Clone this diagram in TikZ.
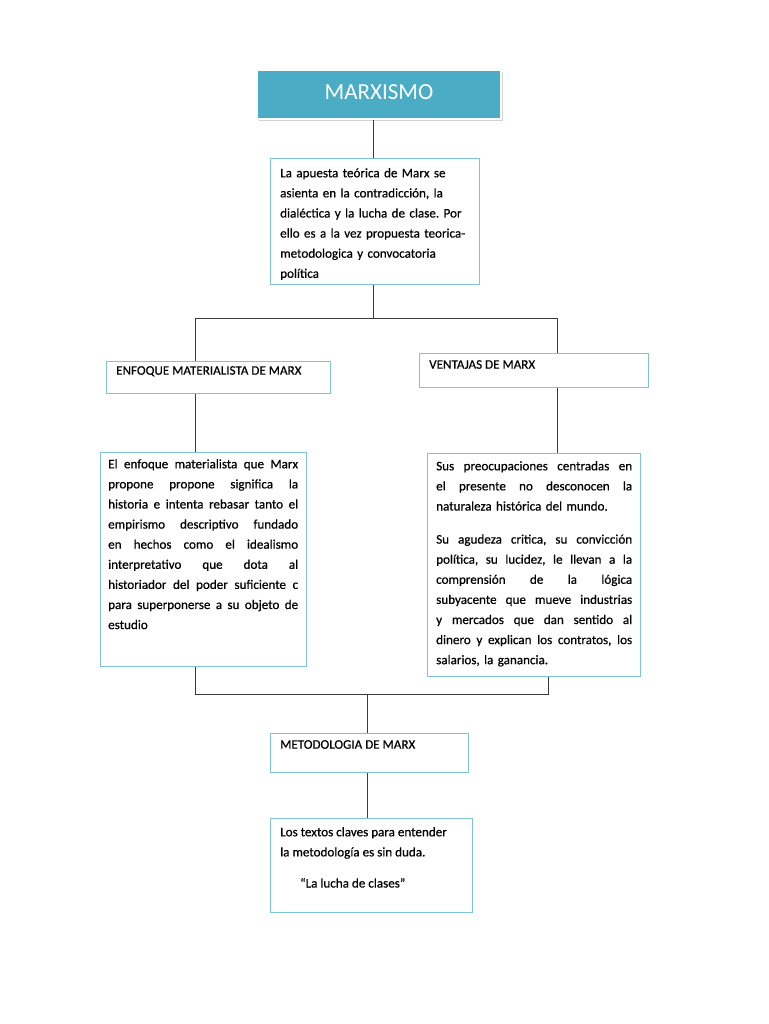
\documentclass[tikz,border=0pt]{standalone}
\usepackage{fontspec}
\setmainfont{Carlito}[FakeBold=0.5]
\newfontfamily\titlefont{Carlito}
\frenchspacing
\usetikzlibrary{shadows}
\definecolor{acc}{HTML}{4BACC6}
\definecolor{edge}{HTML}{7FC3D6}
\definecolor{conn}{HTML}{3A3A3A}
\newcommand{\jline}[1]{\hbox to \hsize{\spaceskip=0.22em plus 1fil\relax #1}}
\tikzset{
  box/.style={draw=edge, line width=1pt, fill=white, anchor=north west, inner sep=0pt},
  txt/.style={anchor=north west, inner sep=0pt, font=\fontsize{13.1}{20.1}\selectfont\frenchspacing, text=black},
  conn/.style={draw=conn, line width=1pt},
}
\begin{document}
\begin{tikzpicture}[x=1pt,y=-1pt]
\useasboundingbox[fill=white] (0,0) rectangle (768,1024);
% title
\node[box, draw=white, line width=2pt, fill=acc, minimum width=244pt, minimum height=49pt,
  drop shadow={opacity=0.35, shadow xshift=1.5pt, shadow yshift=-2.5pt},
  text=white, font=\titlefont\fontsize{23}{26}\selectfont] (t) at (256,69) {\raisebox{4pt}{MARXISMO}};
% box 1
\node[box, minimum width=209pt, minimum height=126pt] (b1) at (270,158) {};
\node[txt, text width=195pt, align=left] (b1t) at (280,168) {La apuesta teórica de Marx se\\
asienta en la contradicción, la\\
dialéctica y la lucha de clase. Por\\
ello es a la vez propuesta teorica-\\
metodologica y convocatoria\\
política};
% level 2 headers
\node[box, minimum width=224pt, minimum height=32pt] (l1) at (106,361) {};
\node[txt] (l1t) at (116,366) {ENFOQUE MATERIALISTA DE MARX};
\node[box, minimum width=229pt, minimum height=34pt] (r1) at (419,353) {};
\node[txt] (r1t) at (429,360) {VENTAJAS DE MARX};
% level 3 texts
\node[box, minimum width=206pt, minimum height=214pt] (l2) at (100,452) {};
\node[txt, text width=190pt, align=left] (l2t) at (108,459) {\jline{El enfoque materialista que Marx}
\jline{propone propone significa la}
\jline{historia e intenta rebasar tanto el}
\jline{empirismo descriptivo fundado}
\jline{en hechos como el idealismo}
\jline{interpretativo que dota al}
\jline{historiador del poder suficiente c}
\jline{para superponerse a su objeto de}
\hbox{estudio}};
\node[box, minimum width=213pt, minimum height=223pt] (r2) at (427,453) {};
\node[txt, text width=196pt, align=left] (r2t) at (436,461) {\jline{Sus preocupaciones centradas en}
\jline{el presente no desconocen la}
\hbox{naturaleza histórica del mundo.}
\vskip13pt
\jline{Su agudeza critica, su convicción}
\jline{política, su lucidez, le llevan a la}
\jline{comprensión de la lógica}
\jline{subyacente que mueve industrias}
\jline{y mercados que dan sentido al}
\jline{dinero y explican los contratos, los}
\hbox{salarios, la ganancia.}};
% level 4
\node[box, minimum width=198pt, minimum height=39pt] (m1) at (270,733) {};
\node[txt] (m1t) at (280,740) {METODOLOGIA DE MARX};
\node[box, minimum width=202pt, minimum height=94pt] (m2) at (270,818) {};
\node[txt, align=left] (m2t) at (280,827) {Los textos claves para entender\\
la metodología es sin duda.\\[11pt]
\hspace*{20pt}“La lucha de clases”};
% connectors
\coordinate (j1) at (373,318);
\coordinate (j2) at (367,694);
\draw[conn] (t.south -| j1) -- (b1.north -| j1);
\draw[conn] (b1.south -| j1) -- (j1);
\draw[conn] (j1) -| (l1.north -| 195,0);
\draw[conn] (j1) -| (r1.north -| 557,0);
\draw[conn] (l1.south -| 195,0) -- (l2.north -| 195,0);
\draw[conn] (r1.south -| 557,0) -- (r2.north -| 557,0);
\draw[conn] (l2.south -| 195,0) |- (j2);
\draw[conn] (r2.south -| 548,0) |- (j2);
\draw[conn] (j2) -- (m1.north -| j2);
\draw[conn] (m1.south -| j2) -- (m2.north -| j2);
\end{tikzpicture}
\end{document}
